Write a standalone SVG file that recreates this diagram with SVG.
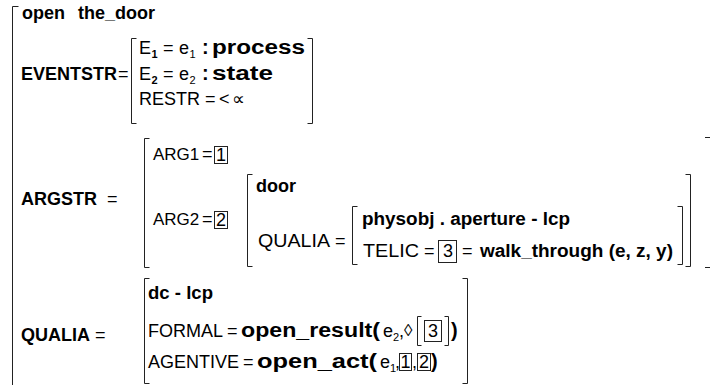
<svg xmlns="http://www.w3.org/2000/svg" width="710" height="385" viewBox="0 0 710 385">
  <style>
    text { font-family: "Liberation Sans", Arial, "DejaVu Sans", sans-serif; font-size: 18px; fill: #000; }
    .b { font-weight: bold; }
    .w { font-weight: bold; font-size: 20px; }
    .sub { font-size: 11px; }
    .br { fill: none; stroke: #222; stroke-width: 1; }
    .box { fill: none; stroke: #222; stroke-width: 1; }
  </style>
  <rect width="710" height="385" fill="#fff"/>

  <!-- outer structure -->
  <path class="br" d="M18.5,6.5 H12.5 V386"/>
  <text class="b" x="22" y="19">open</text>
  <text class="b" x="78" y="19">the_door</text>

  <!-- EVENTSTR -->
  <text class="b" x="21" y="80">EVENTSTR</text>
  <text x="118" y="80">=</text>
  <path class="br" d="M136.5,38.5 H131.5 V123.5 H136.5 M307.5,38.5 H312.5 V123.5 H307.5"/>
  <text x="139" y="54">E</text><text class="sub b" x="151.5" y="58">1</text>
  <text x="163" y="54">=</text>
  <text x="179" y="54">e</text><text class="sub" x="189.5" y="58">1</text>
  <text class="w" x="202" y="54">:</text>
  <text class="w" x="212" y="54" textLength="93" lengthAdjust="spacingAndGlyphs">process</text>
  <text x="139" y="80">E</text><text class="sub b" x="151.5" y="84">2</text>
  <text x="163" y="80">=</text>
  <text x="179" y="80">e</text><text class="sub" x="189.5" y="84">2</text>
  <text class="w" x="202" y="80">:</text>
  <text class="w" x="212" y="80" textLength="61" lengthAdjust="spacingAndGlyphs">state</text>
  <text x="139" y="105">RESTR</text>
  <text x="205" y="105">=</text>
  <text x="219" y="105">&lt;</text>
  <text x="232" y="105">∝</text>

  <!-- ARGSTR -->
  <text class="b" x="21" y="205">ARGSTR</text>
  <text x="107" y="205">=</text>
  <path class="br" d="M149.5,138.5 H144.5 V267.5 H149.5 M705,137.5 H711 M705,267.5 H711"/>
  <text x="153" y="160" style="font-size:17px">ARG1</text>
  <text x="202" y="160">=</text>
  <rect class="box" x="214.5" y="146.5" width="13" height="17"/>
  <text x="216" y="161">1</text>
  <text x="153" y="225" style="font-size:17px">ARG2</text>
  <text x="202" y="225">=</text>
  <rect class="box" x="214.5" y="211.5" width="13" height="17"/>
  <text x="216" y="226">2</text>

  <path class="br" d="M252.5,174.5 H247.5 V266.5 H252.5 M685.5,174.5 H690.5 V266.5 H685.5"/>
  <text class="b" x="256" y="192">door</text>
  <text x="258" y="247" textLength="72" lengthAdjust="spacingAndGlyphs">QUALIA</text>
  <text x="335" y="247">=</text>
  <path class="br" d="M357.5,206.5 H352.5 V264.5 H357.5 M677.5,206.5 H682.5 V264.5 H677.5"/>
  <text class="b" x="362" y="225" textLength="208" lengthAdjust="spacingAndGlyphs">physobj . aperture - lcp</text>
  <text x="363" y="257" textLength="56" lengthAdjust="spacingAndGlyphs">TELIC</text>
  <text x="424" y="257">=</text>
  <rect class="box" x="438.5" y="240.5" width="18" height="22"/>
  <text x="443" y="257">3</text>
  <text x="462" y="257">=</text>
  <text class="b" x="480" y="257" textLength="193" lengthAdjust="spacingAndGlyphs">walk_through (e, z, y)</text>

  <!-- QUALIA -->
  <text class="b" x="21" y="341">QUALIA</text>
  <text x="95" y="341">=</text>
  <path class="br" d="M149.5,278.5 H144.5 V383.5 H149.5 M462.5,278.5 H467.5 V383.5 H462.5"/>
  <text class="b" x="148" y="299" textLength="65" lengthAdjust="spacingAndGlyphs">dc - lcp</text>
  <text x="148" y="337">FORMAL</text>
  <text x="227" y="337">=</text>
  <text class="w" x="241" y="337" textLength="139" lengthAdjust="spacingAndGlyphs">open_result(</text>
  <text x="383" y="337">e</text><text class="sub" x="393" y="341">2</text>
  <text x="399" y="337">,</text>
  <text x="404" y="336" style="font-size:17px">◊</text>
  <path class="br" d="M421.5,316.5 H417.5 V345.5 H421.5 M444.5,316.5 H448.5 V345.5 H444.5"/>
  <rect class="box" x="424.5" y="320.5" width="17" height="21"/>
  <text x="428" y="337">3</text>
  <text class="w" x="451" y="337">)</text>
  <text x="148" y="368">AGENTIVE</text>
  <text x="243" y="368">=</text>
  <text class="w" x="257" y="368" textLength="120" lengthAdjust="spacingAndGlyphs">open_act(</text>
  <text x="380" y="368">e</text><text class="sub" x="390" y="372">1</text>
  <text x="395" y="368">,</text>
  <rect class="box" x="399.5" y="353.5" width="12" height="17"/>
  <text x="400.5" y="368">1</text>
  <text x="412" y="368">,</text>
  <rect class="box" x="417.5" y="353.5" width="13" height="17"/>
  <text x="419" y="368">2</text>
  <text class="w" x="431" y="368">)</text>
</svg>
